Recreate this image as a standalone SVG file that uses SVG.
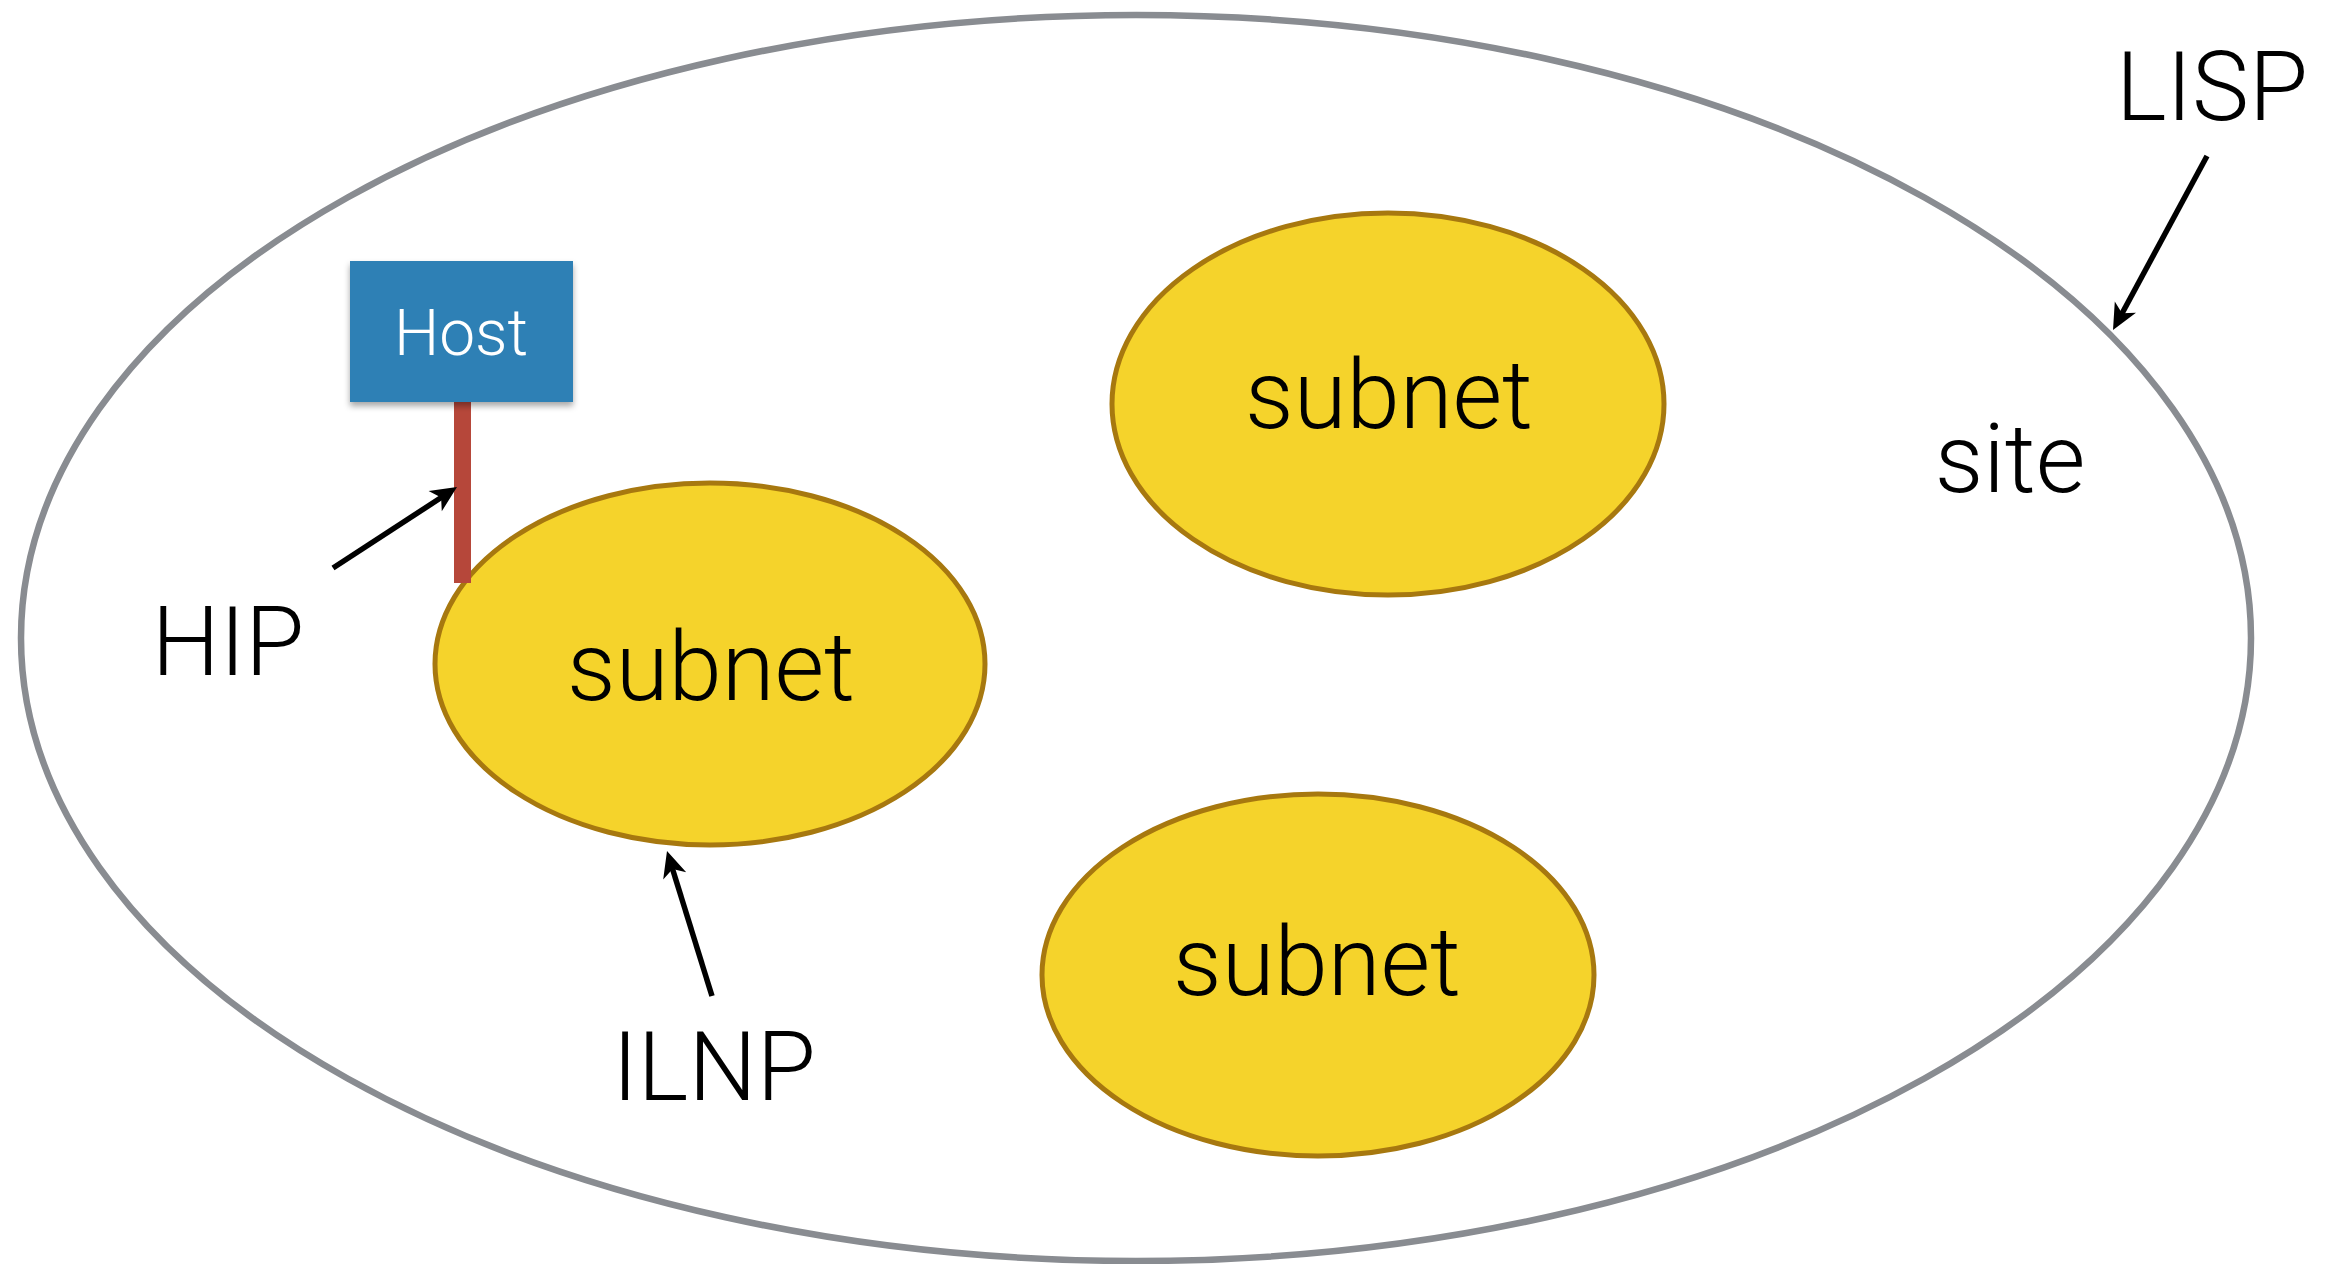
<svg xmlns="http://www.w3.org/2000/svg" width="2336" height="1264" viewBox="0 0 2336 1264">
  <style>
    .lbl { font-family: Roboto, "Liberation Sans", sans-serif; font-weight: 300; font-size: 96px; fill: #000; text-anchor: middle; }
    .subnet { fill: #f5d32b; stroke: #a7780f; stroke-width: 5; }
    .arrow { stroke: #000; stroke-width: 5.5; fill: none; }
    .head { fill: #000; }
  </style>
  <defs>
    <filter id="shadow" x="-10%" y="-10%" width="130%" height="140%">
      <feDropShadow dx="0" dy="4" stdDeviation="3" flood-color="#000" flood-opacity="0.35"/>
    </filter>
  </defs>
  <rect width="2336" height="1264" fill="#fff"/>

  <g id="site">
    <ellipse cx="1136" cy="638" rx="1115" ry="623" fill="#fff" stroke="#898c91" stroke-width="6.5"/>
    <text class="lbl" x="2010" y="492">site</text>
  </g>

  <g id="subnet1">
    <ellipse class="subnet" cx="710" cy="664" rx="275" ry="181"/>
    <text class="lbl" x="711" y="700">subnet</text>
  </g>
  <g id="subnet2">
    <ellipse class="subnet" cx="1388" cy="404" rx="276" ry="191"/>
    <text class="lbl" x="1389" y="428">subnet</text>
  </g>
  <g id="subnet3">
    <ellipse class="subnet" cx="1318" cy="975" rx="276" ry="181"/>
    <text class="lbl" x="1317" y="995">subnet</text>
  </g>

  <g id="host">
    <rect x="454" y="400" width="17" height="183" fill="#b6473a"/>
    <rect x="350" y="261" width="223" height="141" fill="#2e80b5" filter="url(#shadow)"/>
    <text x="461" y="355" font-family="Roboto, 'Liberation Sans', sans-serif" font-weight="300" font-size="64" fill="#fff" text-anchor="middle">Host</text>
  </g>

  <g id="labels">
    <text class="lbl" x="228" y="675">HIP</text>
    <text class="lbl" x="714" y="1100">ILNP</text>
    <text class="lbl" x="2212" y="120">LISP</text>
  </g>

  <g id="connectors">
    <line class="arrow" x1="333" y1="568" x2="442" y2="497"/>
    <path class="head" d="M457,487 L428.6,491.1 L441.1,497.4 L441.8,511.3 Z"/>
    <line class="arrow" x1="712" y1="996" x2="672.3" y2="868.2"/>
    <path class="head" d="M667,851 L663.2,879.4 L672.6,869.1 L686.2,872.3 Z"/>
    <line class="arrow" x1="2207" y1="156" x2="2121.6" y2="314.2"/>
    <path class="head" d="M2113,330 L2136,312.8 L2122,313.3 L2114.8,301.4 Z"/>
  </g>
</svg>
